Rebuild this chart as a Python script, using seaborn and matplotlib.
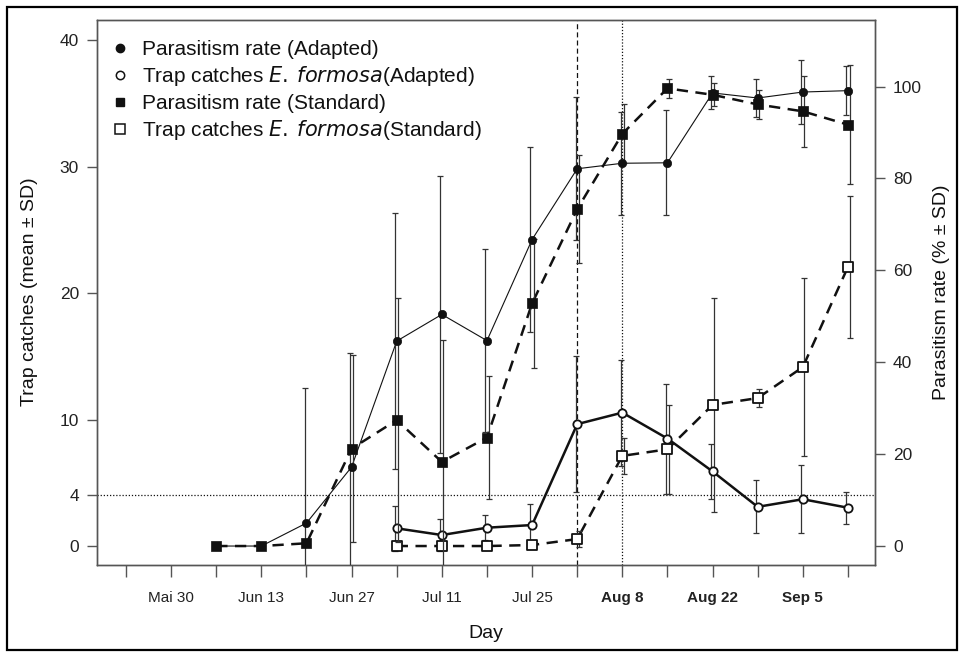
import numpy as np
import pandas as pd
import matplotlib
matplotlib.use("Agg")
import matplotlib.pyplot as plt
import seaborn as sns
from matplotlib.lines import Line2D
from matplotlib.patches import Rectangle

# ---------------- data ----------------
season_start = "2015-05-23"
par_dates = ["2015-06-06", "2015-06-13", "2015-06-20", "2015-06-27", "2015-07-04",
             "2015-07-11", "2015-07-18", "2015-07-25", "2015-08-01", "2015-08-08",
             "2015-08-15", "2015-08-22", "2015-08-29", "2015-09-05", "2015-09-12"]
trap_dates = ["2015-07-04", "2015-07-11", "2015-07-18", "2015-07-25", "2015-08-01",
              "2015-08-08", "2015-08-15", "2015-08-22", "2015-08-29", "2015-09-05",
              "2015-09-12"]

par_adapted_mean = [0, 0, 5.0, 17.2, 44.6, 50.4, 44.7, 66.7, 82.1, 83.3, 83.4, 98.6, 97.5, 98.8, 99.1]
par_adapted_sd = [0, 0, 29.3, 24.7, 27.8, 30.1, 19.9, 20.1, 15.6, 11.2, 11.4, 3.6, 4.2, 6.9, 5.3]
par_standard_mean = [0, 0, 0.6, 21.2, 27.4, 18.3, 23.6, 52.8, 73.3, 89.7, 99.6, 98.2, 96.1, 94.6, 91.7]
par_standard_sd = [0, 0, 0, 20.3, 26.5, 26.5, 13.3, 14.1, 11.8, 6.4, 2.1, 2.5, 3.2, 7.7, 12.9]

trap_adapted_mean = [1.4, 0.87, 1.45, 1.66, 9.64, 10.55, 8.5, 5.9, 3.1, 3.7, 3.03]
trap_adapted_sd = [1.77, 1.25, 1.0, 1.66, 5.35, 4.2, 4.35, 2.2, 2.1, 2.68, 1.27]
trap_standard_mean = [0, 0, 0, 0.08, 0.55, 7.13, 7.65, 11.16, 11.7, 14.15, 22.07]
trap_standard_sd = [0, 0, 0, 0, 0.65, 1.4, 3.5, 8.45, 0.7, 7.05, 5.6]

tick_dates = ["2015-05-30", "2015-06-13", "2015-06-27", "2015-07-11", "2015-07-25",
              "2015-08-08", "2015-08-22", "2015-09-05"]
tick_labels = ["Mai 30", "Jun 13", "Jun 27", "Jul 11", "Jul 25", "Aug 8", "Aug 22", "Sep 5"]
bold_labels = ["Aug 8", "Aug 22", "Sep 5"]
left_ticks = [0, 4, 10, 20, 30, 40]
right_ticks = [0, 20, 40, 60, 80, 100]
release_change_date = "2015-08-01"
marker_date = "2015-08-08"
threshold = 4

legend_labels = ["Parasitism rate (Adapted)",
                 r"Trap catches $\mathit{E.\:formosa}$(Adapted)",
                 "Parasitism rate (Standard)",
                 r"Trap catches $\mathit{E.\:formosa}$(Standard)"]

# ---------------- helpers ----------------
t0 = pd.to_datetime(season_start)
def to_day(d):
    return (pd.to_datetime(pd.Series(d)) - t0).dt.days.to_numpy().astype(float)

par_df = pd.DataFrame({"day": to_day(par_dates),
                       "ad_m": par_adapted_mean, "ad_sd": par_adapted_sd,
                       "st_m": par_standard_mean, "st_sd": par_standard_sd})
trap_df = pd.DataFrame({"day": to_day(trap_dates),
                        "ad_m": trap_adapted_mean, "ad_sd": trap_adapted_sd,
                        "st_m": trap_standard_mean, "st_sd": trap_standard_sd})

sns.set_theme(style="ticks")
plt.rcParams['font.family'] = ['Liberation Sans', 'DejaVu Sans']
plt.rcParams['mathtext.fontset'] = 'dejavusans'

W, H = 964, 657
fig = plt.figure(figsize=(W / 100, H / 100), dpi=100)
fig.patch.set_facecolor("white")
L, R, T, B = 97, 875, 20, 565
ax = fig.add_axes([L / W, 1 - B / H, (R - L) / W, (B - T) / H])
ax.set_facecolor("white")
ax2 = ax.twinx()

dash = (0, (4.5, 3.0))
ink = "#111111"
bar_col = "#333333"

# ---- trap catches (left axis) ----
sns.lineplot(data=trap_df, x="day", y="ad_m", ax=ax, color=ink, linewidth=1.8,
             linestyle="-", errorbar=None, zorder=2)
sns.lineplot(data=trap_df, x="day", y="st_m", ax=ax, color=ink, linewidth=1.8,
             linestyle=dash, errorbar=None, zorder=2)
m = trap_df["ad_sd"] > 0
ax.errorbar(trap_df["day"][m] - 0.25, trap_df["ad_m"][m], yerr=trap_df["ad_sd"][m], fmt="none",
            ecolor=bar_col, elinewidth=0.9, capsize=2.5, capthick=0.9, zorder=3)
m = trap_df["st_sd"] > 0
ax.errorbar(trap_df["day"][m] + 0.25, trap_df["st_m"][m], yerr=trap_df["st_sd"][m], fmt="none",
            ecolor=bar_col, elinewidth=0.9, capsize=2.5, capthick=0.9, zorder=3)
sns.scatterplot(data=trap_df, x="day", y="ad_m", ax=ax, marker="o", s=36,
                facecolor="white", edgecolor=ink, linewidth=1.3, zorder=4)
sns.scatterplot(data=trap_df, x="day", y="st_m", ax=ax, marker="s", s=42,
                facecolor="white", edgecolor=ink, linewidth=1.3, zorder=4)

# ---- parasitism (right axis) ----
sns.lineplot(data=par_df, x="day", y="ad_m", ax=ax2, color=ink, linewidth=0.8,
             linestyle="-", errorbar=None, zorder=2)
sns.lineplot(data=par_df, x="day", y="st_m", ax=ax2, color=ink, linewidth=1.8,
             linestyle=dash, errorbar=None, zorder=2)
m = par_df["ad_sd"] > 0
ax2.errorbar(par_df["day"][m] - 0.25, par_df["ad_m"][m], yerr=par_df["ad_sd"][m], fmt="none",
             ecolor=bar_col, elinewidth=0.9, capsize=2.5, capthick=0.9, zorder=3)
m = par_df["st_sd"] > 0
ax2.errorbar(par_df["day"][m] + 0.25, par_df["st_m"][m], yerr=par_df["st_sd"][m], fmt="none",
             ecolor=bar_col, elinewidth=0.9, capsize=2.5, capthick=0.9, zorder=3)
sns.scatterplot(data=par_df, x="day", y="ad_m", ax=ax2, marker="o", s=36,
                color=ink, edgecolor=ink, linewidth=0.5, zorder=4)
sns.scatterplot(data=par_df, x="day", y="st_m", ax=ax2, marker="s", s=42,
                color=ink, edgecolor=ink, linewidth=0.5, zorder=4)

# ---- reference lines ----
ax.axvline(to_day([release_change_date])[0], color=ink, lw=0.9, ls=(0, (4, 2.5)), zorder=1)
ax.axvline(to_day([marker_date])[0], color=ink, lw=0.9, ls=(0, (1, 1.5)), zorder=1)
ax.axhline(threshold, color=ink, lw=0.9, ls=(0, (1, 1.5)), zorder=1)

# ---- axes limits & ticks ----
k = 100 / 36.34
ylo, yhi = -1.5, 41.6
ax.set_xlim(-4.5, 116.2)
ax.set_ylim(ylo, yhi)
ax2.set_ylim(ylo * k, yhi * k)

all_ticks = np.arange(0, 113, 7)
ax.set_xticks(all_ticks)
lab_days = to_day(tick_dates)
lab_map = dict(zip(lab_days, tick_labels))
ax.set_xticklabels([lab_map.get(float(d), "") for d in all_ticks])
for tl in ax.get_xticklabels():
    if tl.get_text() in bold_labels:
        tl.set_fontweight("bold")
ax.set_yticks(left_ticks)
ax.set_yticklabels([str(v) for v in left_ticks])
ax2.set_yticks(right_ticks)
ax2.set_yticklabels([str(v) for v in right_ticks])

spine_col = "#555555"
for a in (ax, ax2):
    for s in a.spines.values():
        s.set_visible(True)
        s.set_color(spine_col)
        s.set_linewidth(1.0)
ax.tick_params(axis="x", length=8.5, width=1.0, color=spine_col, pad=10, labelsize=11, labelcolor="#222222")
ax.tick_params(axis="y", length=7, width=1.0, color=spine_col, pad=6, labelsize=12.5, labelcolor="#222222")
ax2.tick_params(axis="y", length=7, width=1.0, color=spine_col, pad=6, labelsize=12.5, labelcolor="#222222")
ax.set_xlabel("")
ax.set_ylabel("")
ax2.set_ylabel("")

fig.text(30 / W, 1 - 292 / H, "Trap catches (mean ± SD)", rotation=90, ha="center", va="center",
         fontsize=14, color="#111111")
fig.text(941 / W, 1 - 292 / H, "Parasitism rate (% ± SD)", rotation=90, ha="center", va="center",
         fontsize=14, color="#111111")
fig.text(486 / W, 1 - 633 / H, "Day", ha="center", va="center", fontsize=14, color="#111111")

# ---- legend ----
handles = [Line2D([], [], ls="none", marker="o", ms=6, mfc=ink, mec=ink),
           Line2D([], [], ls="none", marker="o", ms=6, mfc="white", mec=ink, mew=1.1),
           Line2D([], [], ls="none", marker="s", ms=6, mfc=ink, mec=ink),
           Line2D([], [], ls="none", marker="s", ms=6.5, mfc="white", mec=ink, mew=1.1)]
leg = ax2.legend(handles, legend_labels, loc="upper left",
                 bbox_to_anchor=((110 - L) / (R - L), (B - 40) / (B - T)),
                 frameon=False, fontsize=15, borderpad=0, borderaxespad=0,
                 handlelength=0.95, handletextpad=0.6, labelspacing=0.26)
for t in leg.get_texts():
    t.set_color("#111111")

# ---- outer frame ----
fig.add_artist(Rectangle((7 / W, 1 - 650 / H), (957 - 7) / W, (650 - 7) / H,
                         transform=fig.transFigure, fill=False, lw=1.6, ec="black"))

fig.savefig("out.png", dpi=100, facecolor="white")
